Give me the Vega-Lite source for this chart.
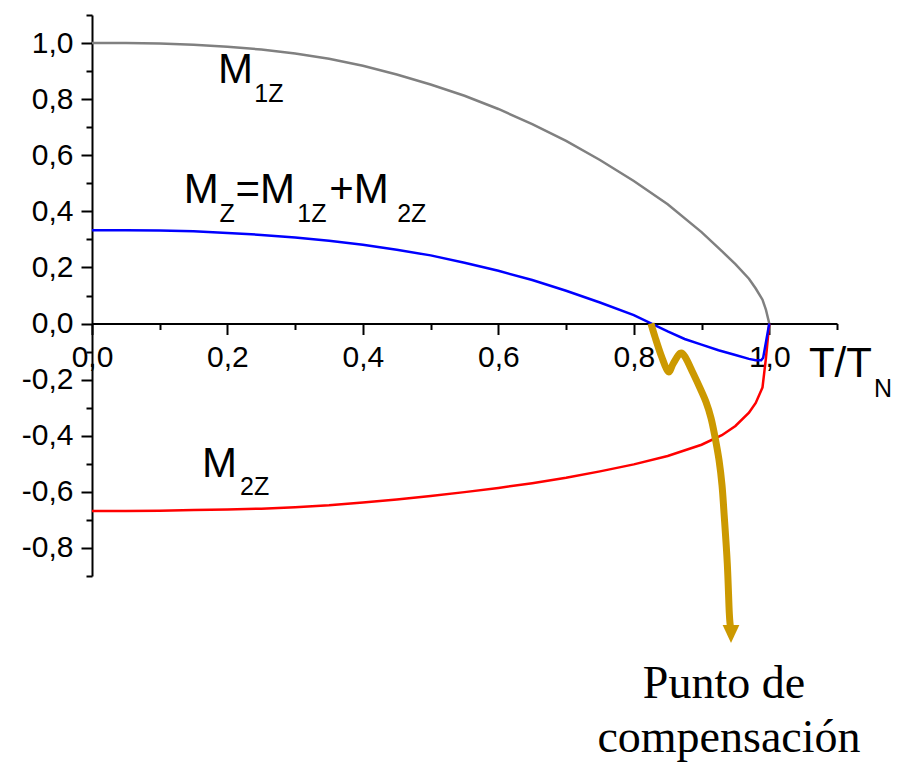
{
  "$schema": "https://vega.github.io/schema/vega-lite/v6.json",
  "width": 745,
  "height": 561,
  "autosize": "none",
  "padding": {"left": 92, "top": 15, "right": 63, "bottom": 191},
  "background": "white",
  "config": {"view": {"stroke": null}, "axis": {"grid": false}},
  "datasets": {
    "curves": [
      {"x": 0, "y": 1.0, "s": "M1Z"}, {"x": 0.05, "y": 1.0, "s": "M1Z"}, {"x": 0.1, "y": 0.998, "s": "M1Z"}, {"x": 0.15, "y": 0.994, "s": "M1Z"}, {"x": 0.2, "y": 0.987, "s": "M1Z"}, {"x": 0.25, "y": 0.977, "s": "M1Z"}, {"x": 0.3, "y": 0.963, "s": "M1Z"}, {"x": 0.35, "y": 0.944, "s": "M1Z"}, {"x": 0.4, "y": 0.919, "s": "M1Z"}, {"x": 0.45, "y": 0.888, "s": "M1Z"}, {"x": 0.5, "y": 0.852, "s": "M1Z"}, {"x": 0.55, "y": 0.812, "s": "M1Z"}, {"x": 0.6, "y": 0.765, "s": "M1Z"}, {"x": 0.65, "y": 0.711, "s": "M1Z"}, {"x": 0.7, "y": 0.651, "s": "M1Z"}, {"x": 0.75, "y": 0.583, "s": "M1Z"}, {"x": 0.8, "y": 0.508, "s": "M1Z"}, {"x": 0.85, "y": 0.425, "s": "M1Z"}, {"x": 0.9, "y": 0.326, "s": "M1Z"}, {"x": 0.93, "y": 0.258, "s": "M1Z"}, {"x": 0.95, "y": 0.212, "s": "M1Z"}, {"x": 0.97, "y": 0.16, "s": "M1Z"}, {"x": 0.98, "y": 0.125, "s": "M1Z"}, {"x": 0.99, "y": 0.085, "s": "M1Z"}, {"x": 0.995, "y": 0.05, "s": "M1Z"}, {"x": 1.0, "y": 0, "s": "M1Z"},
      {"x": 0, "y": -0.668, "s": "M2Z"}, {"x": 0.05, "y": -0.668, "s": "M2Z"}, {"x": 0.1, "y": -0.667, "s": "M2Z"}, {"x": 0.15, "y": -0.665, "s": "M2Z"}, {"x": 0.2, "y": -0.663, "s": "M2Z"}, {"x": 0.25, "y": -0.66, "s": "M2Z"}, {"x": 0.3, "y": -0.655, "s": "M2Z"}, {"x": 0.35, "y": -0.648, "s": "M2Z"}, {"x": 0.4, "y": -0.638, "s": "M2Z"}, {"x": 0.45, "y": -0.627, "s": "M2Z"}, {"x": 0.5, "y": -0.615, "s": "M2Z"}, {"x": 0.55, "y": -0.601, "s": "M2Z"}, {"x": 0.6, "y": -0.586, "s": "M2Z"}, {"x": 0.65, "y": -0.569, "s": "M2Z"}, {"x": 0.7, "y": -0.55, "s": "M2Z"}, {"x": 0.75, "y": -0.527, "s": "M2Z"}, {"x": 0.8, "y": -0.502, "s": "M2Z"}, {"x": 0.85, "y": -0.472, "s": "M2Z"}, {"x": 0.9, "y": -0.432, "s": "M2Z"}, {"x": 0.93, "y": -0.398, "s": "M2Z"}, {"x": 0.95, "y": -0.365, "s": "M2Z"}, {"x": 0.97, "y": -0.318, "s": "M2Z"}, {"x": 0.98, "y": -0.283, "s": "M2Z"}, {"x": 0.99, "y": -0.228, "s": "M2Z"}, {"x": 0.995, "y": -0.125, "s": "M2Z"}, {"x": 1.0, "y": 0, "s": "M2Z"},
      {"x": 0, "y": 0.333, "s": "MZ"}, {"x": 0.05, "y": 0.333, "s": "MZ"}, {"x": 0.1, "y": 0.332, "s": "MZ"}, {"x": 0.15, "y": 0.329, "s": "MZ"}, {"x": 0.2, "y": 0.323, "s": "MZ"}, {"x": 0.25, "y": 0.316, "s": "MZ"}, {"x": 0.3, "y": 0.307, "s": "MZ"}, {"x": 0.35, "y": 0.295, "s": "MZ"}, {"x": 0.4, "y": 0.281, "s": "MZ"}, {"x": 0.45, "y": 0.263, "s": "MZ"}, {"x": 0.5, "y": 0.243, "s": "MZ"}, {"x": 0.55, "y": 0.217, "s": "MZ"}, {"x": 0.6, "y": 0.188, "s": "MZ"}, {"x": 0.65, "y": 0.155, "s": "MZ"}, {"x": 0.7, "y": 0.117, "s": "MZ"}, {"x": 0.75, "y": 0.075, "s": "MZ"}, {"x": 0.8, "y": 0.03, "s": "MZ"}, {"x": 0.85, "y": -0.028, "s": "MZ"}, {"x": 0.875, "y": -0.055, "s": "MZ"}, {"x": 0.9, "y": -0.075, "s": "MZ"}, {"x": 0.925, "y": -0.095, "s": "MZ"}, {"x": 0.95, "y": -0.112, "s": "MZ"}, {"x": 0.97, "y": -0.126, "s": "MZ"}, {"x": 0.98, "y": -0.131, "s": "MZ"}, {"x": 0.988, "y": -0.131, "s": "MZ"}, {"x": 0.991, "y": -0.122, "s": "MZ"}, {"x": 1.0, "y": 0, "s": "MZ"}
    ],
    "arrow": [
      {"x": 0.8253, "y": 0.0, "o": 1}, {"x": 0.8312, "y": -0.0471, "o": 2}, {"x": 0.8411, "y": -0.1184, "o": 3}, {"x": 0.8509, "y": -0.1718, "o": 4}, {"x": 0.8583, "y": -0.1419, "o": 5}, {"x": 0.8682, "y": -0.1062, "o": 6}, {"x": 0.8756, "y": -0.1184, "o": 7}, {"x": 0.8874, "y": -0.1765, "o": 8}, {"x": 0.8977, "y": -0.2299, "o": 9}, {"x": 0.9066, "y": -0.2799, "o": 10}, {"x": 0.914, "y": -0.3369, "o": 11}, {"x": 0.9199, "y": -0.4046, "o": 12}, {"x": 0.9258, "y": -0.4866, "o": 13}, {"x": 0.9302, "y": -0.5758, "o": 14}, {"x": 0.9332, "y": -0.6756, "o": 15}, {"x": 0.938, "y": -0.8549, "o": 16}, {"x": 0.941, "y": -1.0332, "o": 17}, {"x": 0.943, "y": -1.0856, "o": 18}
    ],
    "head": [{"x": 0.9435, "y": -1.107}],
    "mainText": [
      {"x": 0.1859, "y": 0.856, "t": "M"},
      {"x": 0.1355, "y": 0.4285, "t": "M"},
      {"x": 0.2119, "y": 0.4285, "t": "=M"},
      {"x": 0.3503, "y": 0.4285, "t": "+M"},
      {"x": 0.1624, "y": -0.546, "t": "M"},
      {"x": 1.0586, "y": -0.1907, "t": "T/T"}
    ],
    "subText": [
      {"x": 0.2396, "y": 0.7897, "t": "1Z"},
      {"x": 0.1882, "y": 0.3629, "t": "Z"},
      {"x": 0.3032, "y": 0.3629, "t": "1Z"},
      {"x": 0.4506, "y": 0.3629, "t": "2Z"},
      {"x": 0.2185, "y": -0.611, "t": "2Z"},
      {"x": 1.1546, "y": -0.262, "t": "N"}
    ],
    "note": [
      {"x": 0.9331, "y": -1.335, "t": "Punto de"},
      {"x": 0.9405, "y": -1.5276, "t": "compensación"}
    ]
  },
  "encoding": {
    "x": {
      "field": "x", "type": "quantitative",
      "scale": {"domain": [0, 1.1], "nice": false, "zero": false},
      "axis": {
        "title": null,
        "values": [0, 0.1, 0.2, 0.3, 0.4, 0.5, 0.6, 0.7, 0.8, 0.9, 1, 1.1],
        "offset": -252.5,
        "domainColor": "black", "domainWidth": 2,
        "tickColor": "black", "tickWidth": 2,
        "tickSize": {"condition": {"test": "round(datum.value*10)%2==0", "value": 11}, "value": 6},
        "labelExpr": "round(datum.value*10)%2==0 ? replace(format(datum.value,'.1f'),'.',',') : ''",
        "labelFont": "Liberation Sans", "labelFontSize": 30, "labelColor": "black",
        "labelPadding": 8, "labelFlush": false, "labelOverlap": false, "grid": false
      }
    },
    "y": {
      "field": "y", "type": "quantitative",
      "scale": {"domain": [-0.9, 1.1], "nice": false, "zero": false},
      "axis": {
        "title": null,
        "values": [-0.9, -0.8, -0.7, -0.6, -0.5, -0.4, -0.3, -0.2, -0.1, 0, 0.1, 0.2, 0.3, 0.4, 0.5, 0.6, 0.7, 0.8, 0.9, 1, 1.1],
        "domainColor": "black", "domainWidth": 2,
        "tickColor": "black", "tickWidth": 2,
        "tickSize": {"condition": {"test": "round(datum.value*10)%2==0", "value": 11}, "value": 6},
        "labelExpr": "round(datum.value*10)%2==0 ? replace(replace(format(datum.value,'.1f'),'.',','),'−','-') : ''",
        "labelFont": "Liberation Sans", "labelFontSize": 30, "labelColor": "black",
        "labelPadding": 8, "labelFlush": false, "labelOverlap": false, "grid": false
      }
    }
  },
  "layer": [
    {
      "data": {"name": "curves"},
      "mark": {"type": "line", "strokeWidth": 2.5},
      "encoding": {
        "color": {"field": "s", "type": "nominal", "scale": {"domain": ["M1Z", "M2Z", "MZ"], "range": ["#808080", "#ff0000", "#0000ff"]}, "legend": null}
      }
    },
    {
      "data": {"name": "arrow"},
      "mark": {"type": "line", "color": "#CC9900", "strokeWidth": 7, "interpolate": "cardinal"},
      "encoding": {"order": {"field": "o", "type": "quantitative"}}
    },
    {
      "data": {"name": "head"},
      "mark": {"type": "point", "shape": "M-1,-1.08L1,-1.08L0,1.08Z", "size": 280, "filled": true, "color": "#CC9900", "opacity": 1, "strokeWidth": 0}
    },
    {
      "data": {"name": "mainText"},
      "mark": {"type": "text", "font": "Liberation Sans", "fontSize": 42, "align": "left", "baseline": "alphabetic", "color": "black"},
      "encoding": {"text": {"field": "t", "type": "nominal"}}
    },
    {
      "data": {"name": "subText"},
      "mark": {"type": "text", "font": "Liberation Sans", "fontSize": 25, "align": "left", "baseline": "alphabetic", "color": "black"},
      "encoding": {"text": {"field": "t", "type": "nominal"}}
    },
    {
      "data": {"name": "note"},
      "mark": {"type": "text", "font": "Liberation Serif", "fontSize": 46, "align": "center", "baseline": "alphabetic", "color": "black"},
      "encoding": {"text": {"field": "t", "type": "nominal"}}
    }
  ]
}
